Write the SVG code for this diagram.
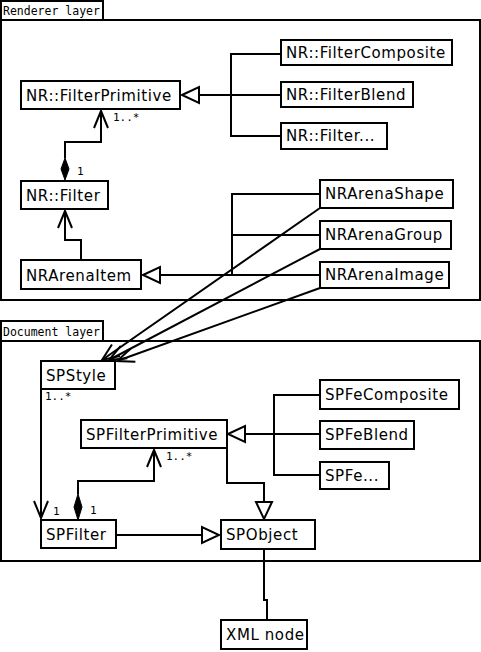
<svg xmlns="http://www.w3.org/2000/svg" width="481" height="652" viewBox="0 0 481 652">
<style>
  .box { fill: #fff; stroke: #000; stroke-width: 2; }
  .frame { fill: none; stroke: #000; stroke-width: 2; }
  .lbl { font-family: "DejaVu Sans", "Liberation Sans", sans-serif; font-size: 15px; letter-spacing: 0.6px; fill: #000; }
  .mono { font-family: "DejaVu Sans Mono", "Liberation Mono", monospace; font-size: 11.5px; fill: #000; }
  .mult { font-family: "DejaVu Sans Mono", "Liberation Mono", monospace; font-size: 11px; fill: #000; }
  .ln { fill: none; stroke: #000; stroke-width: 2; }
  .tri { fill: #fff; stroke: #000; stroke-width: 2; stroke-linejoin: miter; }
  .dia { fill: #000; stroke: #000; stroke-width: 1; }
</style>
<defs>
  <marker id="open" markerUnits="userSpaceOnUse" markerWidth="22" markerHeight="18" refX="18" refY="8" orient="auto" overflow="visible">
    <path d="M1,1 L18,8 L1,15" fill="none" stroke="#000" stroke-width="2"/>
  </marker>
</defs>
<rect width="481" height="652" fill="#fff"/>

<g id="frame-renderer">
  <rect class="frame" x="1" y="20" width="479" height="280"/>
  <rect class="frame" x="1" y="1" width="102" height="19"/>
  <text class="mono" x="3" y="15">Renderer layer</text>
</g>
<g id="frame-document">
  <rect class="frame" x="1" y="341" width="479" height="220"/>
  <rect class="frame" x="1" y="321" width="102" height="20"/>
  <text class="mono" x="3" y="336">Document layer</text>
</g>

<g id="connectors">
  <!-- NR filter primitive inheritance -->
  <path class="ln" d="M281,54 H231 V136 H281 M281,95 H199"/>
  <polygon class="tri" points="182,95 199,87 199,103"/>
  <!-- NR::Filter composition of primitives -->
  <path class="ln" d="M65,158 V142 H101 V111" marker-end="url(#open)"/>
  <polygon class="dia" points="65,158 69,169 65,180 61,169"/>
  <text class="mult" x="113" y="121">1..*</text>
  <text class="mult" x="77" y="175">1</text>
  <!-- NRArenaItem -> NR::Filter -->
  <path class="ln" d="M81,260 V240 H65 V211" marker-end="url(#open)"/>
  <!-- NRArena inheritance -->
  <path class="ln" d="M320,194 H232 V275 M320,235 H232 M320,275 H160"/>
  <polygon class="tri" points="143,275 160,267 160,283"/>
  <!-- NRArena -> SPStyle -->
  <path class="ln" d="M320,208 L102,360" marker-end="url(#open)"/>
  <path class="ln" d="M320,249 L109,360" marker-end="url(#open)"/>
  <path class="ln" d="M320,288 L117,361" marker-end="url(#open)"/>
  <!-- SPStyle -> SPFilter -->
  <path class="ln" d="M41,389 V518" marker-end="url(#open)"/>
  <text class="mult" x="45" y="400">1..*</text>
  <text class="mult" x="53" y="515">1</text>
  <!-- SPFe inheritance -->
  <path class="ln" d="M320,395 H274 V475 H320 M320,434 H245"/>
  <polygon class="tri" points="228,434 245,426 245,442"/>
  <!-- SPFilterPrimitive -> SPObject -->
  <path class="ln" d="M227,448 V483 H264 V502"/>
  <polygon class="tri" points="256,502 272,502 264,519"/>
  <!-- SPFilter composition of SPFilterPrimitive -->
  <path class="ln" d="M78,494 V481 H154 V450" marker-end="url(#open)"/>
  <polygon class="dia" points="78,494 82,507 78,520 74,507"/>
  <text class="mult" x="166" y="460">1..*</text>
  <text class="mult" x="90" y="514">1</text>
  <!-- SPFilter -> SPObject -->
  <path class="ln" d="M116,535 H202"/>
  <polygon class="tri" points="202,527 202,543 219,535"/>
  <!-- SPObject - XML node -->
  <path class="ln" d="M264,549 V600 H267 V620"/>
</g>

<g id="nr-filterprimitive"><rect class="box" x="21" y="81" width="159" height="28"/><text class="lbl" x="26" y="101">NR::FilterPrimitive</text></g>
<g id="nr-filtercomposite"><rect class="box" x="281" y="40" width="171" height="25"/><text class="lbl" x="286" y="58">NR::FilterComposite</text></g>
<g id="nr-filterblend"><rect class="box" x="281" y="82" width="132" height="25"/><text class="lbl" x="286" y="100">NR::FilterBlend</text></g>
<g id="nr-filterdots"><rect class="box" x="281" y="123" width="106" height="26"/><text class="lbl" x="286" y="141">NR::Filter...</text></g>
<g id="nr-filter"><rect class="box" x="21" y="181" width="87" height="28"/><text class="lbl" x="26" y="201">NR::Filter</text></g>
<g id="nrarenaitem"><rect class="box" x="21" y="260" width="120" height="29"/><text class="lbl" x="26" y="281">NRArenaItem</text></g>
<g id="nrarenashape"><rect class="box" x="320" y="180" width="133" height="28"/><text class="lbl" x="325" y="199">NRArenaShape</text></g>
<g id="nrarenagroup"><rect class="box" x="320" y="221" width="131" height="28"/><text class="lbl" x="325" y="240">NRArenaGroup</text></g>
<g id="nrarenaimage"><rect class="box" x="320" y="262" width="129" height="26"/><text class="lbl" x="325" y="280">NRArenaImage</text></g>
<g id="spstyle"><rect class="box" x="41" y="361" width="74" height="28"/><text class="lbl" x="46" y="381">SPStyle</text></g>
<g id="spfilterprimitive"><rect class="box" x="81" y="420" width="146" height="28"/><text class="lbl" x="86" y="440">SPFilterPrimitive</text></g>
<g id="spfecomposite"><rect class="box" x="320" y="380" width="139" height="29"/><text class="lbl" x="325" y="400">SPFeComposite</text></g>
<g id="spfeblend"><rect class="box" x="320" y="421" width="94" height="28"/><text class="lbl" x="325" y="440">SPFeBlend</text></g>
<g id="spfedots"><rect class="box" x="320" y="462" width="69" height="27"/><text class="lbl" x="325" y="481">SPFe...</text></g>
<g id="spfilter"><rect class="box" x="41" y="520" width="75" height="28"/><text class="lbl" x="46" y="540">SPFilter</text></g>
<g id="spobject"><rect class="box" x="221" y="520" width="94" height="29"/><text class="lbl" x="226" y="540">SPObject</text></g>
<g id="xmlnode"><rect class="box" x="221" y="620" width="86" height="29"/><text class="lbl" x="226" y="640">XML node</text></g>
</svg>
